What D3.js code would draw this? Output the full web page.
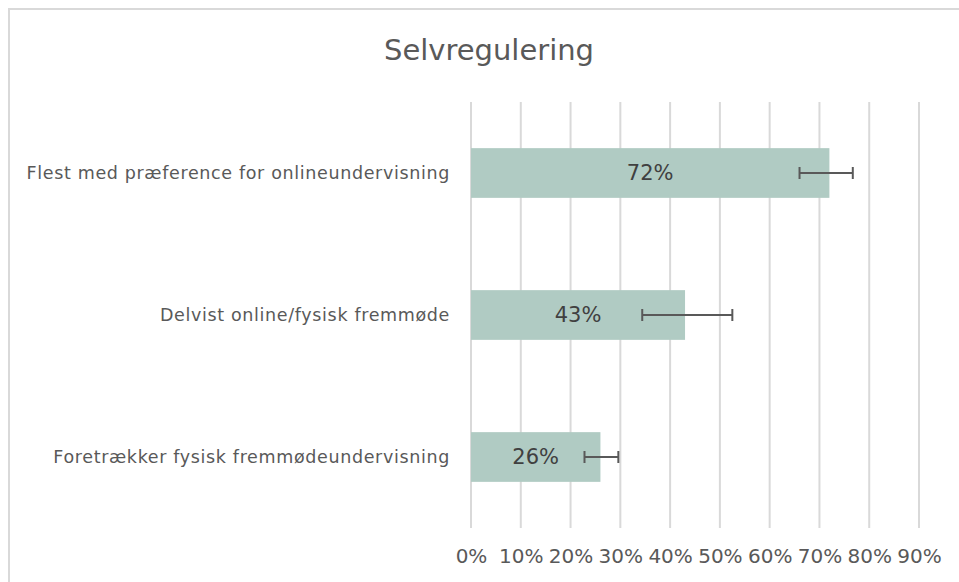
<!DOCTYPE html>
<html>
<head>
<meta charset="utf-8">
<script src="https://cdn.jsdelivr.net/npm/d3@7"></script>
<style>
  body { margin: 0; background: #fff; }
  text { font-family: "DejaVu Sans", sans-serif; }
</style>
</head>
<body>
<div id="chart"></div>
<script>
const categories = [
  'Flest med præference for onlineundervisning',
  'Delvist online/fysisk fremmøde',
  'Foretrækker fysisk fremmødeundervisning'
];
const values = [0.72, 0.43, 0.26];
const errLow = [0.66, 0.344, 0.228];
const errHigh = [0.767, 0.525, 0.296];
const ticks = [0, 0.1, 0.2, 0.3, 0.4, 0.5, 0.6, 0.7, 0.8, 0.9];

const W = 959, H = 582;
const margin = { top: 102, right: 40, bottom: 54, left: 471 };
const width = W - margin.left - margin.right,
      height = H - margin.top - margin.bottom;
const font = '"DejaVu Sans", sans-serif';

const svg = d3.select('#chart')
  .append('svg')
    .attr('width', W)
    .attr('height', H);

// outer chart border
svg.append('rect')
  .attr('x', 9).attr('y', 9)
  .attr('width', W + 20).attr('height', H + 20)
  .attr('fill', 'none')
  .attr('stroke', '#d9d9d9')
  .attr('stroke-width', 2);

svg.append('text')
  .attr('x', 489).attr('y', 60)
  .attr('text-anchor', 'middle')
  .attr('font-size', 29)
  .attr('fill', '#595959')
  .text('Selvregulering');

const g = svg.append('g')
  .attr('transform', `translate(${margin.left},${margin.top})`);

const x = d3.scaleLinear().domain([0, 0.9]).range([0, 448]);
const y = d3.scaleBand().domain(categories).range([0, height]).paddingInner(0.65).paddingOuter(0.325);

// gridlines
g.selectAll('.grid')
  .data(ticks)
  .enter().append('line')
    .attr('class', 'grid')
    .attr('x1', d => x(d)).attr('x2', d => x(d))
    .attr('y1', 0).attr('y2', height)
    .attr('stroke', '#d9d9d9')
    .attr('stroke-width', 2);

// x axis labels
const xAxis = g.append('g')
  .attr('transform', `translate(0,${height})`)
  .call(d3.axisBottom(x).tickValues(ticks).tickFormat(d3.format('.0%')).tickSize(0).tickPadding(21));
xAxis.select('.domain').remove();
xAxis.selectAll('text')
  .attr('font-size', 20)
  .attr('fill', '#595959')
  .style('font-family', font);

// category labels
const yAxis = g.append('g')
  .call(d3.axisLeft(y).tickSize(0).tickPadding(21));
yAxis.select('.domain').remove();
yAxis.selectAll('text')
  .attr('font-size', 17.5)
  .attr('letter-spacing', 0.65)
  .attr('fill', '#595959')
  .style('font-family', font);

// bars
g.selectAll('.bar')
  .data(values)
  .enter().append('rect')
    .attr('class', 'bar')
    .attr('x', x(0))
    .attr('y', (d, i) => y(categories[i]))
    .attr('width', d => x(d) - x(0))
    .attr('height', y.bandwidth())
    .attr('fill', '#b0cbc3');

// value labels
g.selectAll('.val')
  .data(values)
  .enter().append('text')
    .attr('class', 'val')
    .attr('x', d => x(d) / 2)
    .attr('y', (d, i) => y(categories[i]) + y.bandwidth() / 2)
    .attr('dy', '0.35em')
    .attr('text-anchor', 'middle')
    .attr('font-size', 21)
    .attr('fill', '#404040')
    .text(d => d3.format('.0%')(d));

// error bars
const cap = 6;
categories.forEach((c, i) => {
  const cy = y(c) + y.bandwidth() / 2;
  const eb = g.append('g').attr('stroke', '#595959').attr('stroke-width', 2);
  eb.append('line').attr('x1', x(errLow[i])).attr('x2', x(errHigh[i])).attr('y1', cy).attr('y2', cy);
  eb.append('line').attr('x1', x(errLow[i])).attr('x2', x(errLow[i])).attr('y1', cy - cap).attr('y2', cy + cap);
  eb.append('line').attr('x1', x(errHigh[i])).attr('x2', x(errHigh[i])).attr('y1', cy - cap).attr('y2', cy + cap);
});
</script>
</body>
</html>
